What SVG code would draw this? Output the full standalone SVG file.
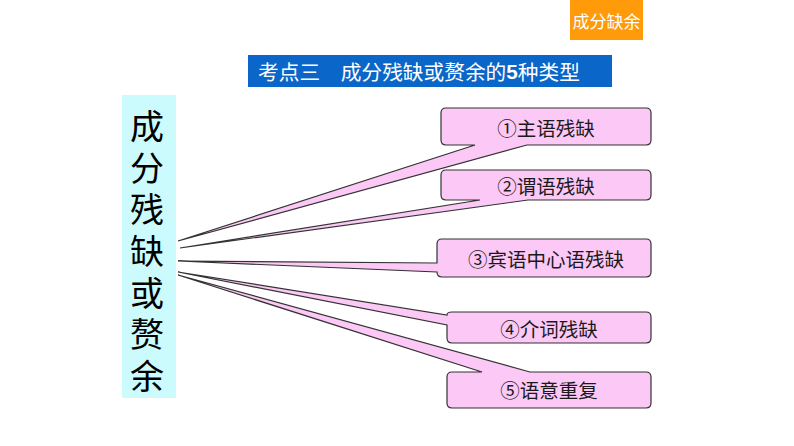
<svg xmlns="http://www.w3.org/2000/svg" width="794" height="446" viewBox="0 0 794 446">
<style>
.cjk{font-family:"Noto Sans CJK SC","Noto Sans",sans-serif}
.callout{fill:#fcc8f6;stroke:#333;stroke-width:1.2;stroke-linejoin:miter}
.ct{font-size:19.5px;fill:#1a1a1a;text-anchor:middle;dominant-baseline:central}
</style>
<rect width="794" height="446" fill="#fff"/>
<g id="tag">
<rect x="570" y="0" width="73" height="40" fill="#ff9a0a"/>
<text class="cjk" x="606.5" y="20" font-size="17" fill="#fff" text-anchor="middle" dominant-baseline="central">成分缺余</text>
</g>
<g id="title">
<rect x="248" y="55" width="364" height="32" fill="#0a66c8"/>
<text class="cjk" x="258" y="71" font-size="20.7" fill="#fff" dominant-baseline="central">考点三　成分残缺或赘余的<tspan font-family="Liberation Sans, Arial, sans-serif" font-weight="bold">5</tspan>种类型</text>
</g>
<g id="root">
<rect x="122" y="95" width="54" height="303" fill="#ccfbfd"/>
<text class="cjk" x="147" y="109" font-size="34" fill="#000" writing-mode="vertical-rl" letter-spacing="7.7">成分残缺或赘余</text>
</g>
<g id="n1">
<path class="callout" d="M446,108 H646 Q651,108 651,113 V140 Q651,145 646,145 H527 L178,241 L475,145 H446 Q441,145 441,140 V113 Q441,108 446,108 Z"/>
<text class="cjk ct" x="546" y="127">①主语残缺</text>
</g>
<g id="n2">
<path class="callout" d="M446,170 H646 Q651,170 651,175 V195 Q651,200 646,200 H528 L180,248 L480,200 H446 Q441,200 441,195 V175 Q441,170 446,170 Z"/>
<text class="cjk ct" x="546" y="185">②谓语残缺</text>
</g>
<g id="n3">
<path class="callout" d="M442,239 H646 Q651,239 651,244 V272 Q651,277 646,277 H442 Q437,277 437,272 L178,261 L437,263 V244 Q437,239 442,239 Z"/>
<text class="cjk ct" x="546" y="258">③宾语中心语残缺</text>
</g>
<g id="n4">
<path class="callout" d="M452,312 H646 Q651,312 651,317 V338 Q651,343 646,343 H452 Q447,343 447,338 V325 L178,272 L447,315 Q447,312 452,312 Z"/>
<text class="cjk ct" x="549" y="328">④介词残缺</text>
</g>
<g id="n5">
<path class="callout" d="M452,372 H482 L178,275 L530,372 H646 Q651,372 651,377 V403 Q651,408 646,408 H452 Q447,408 447,403 V377 Q447,372 452,372 Z"/>
<text class="cjk ct" x="549" y="389">⑤语意重复</text>
</g>
</svg>
